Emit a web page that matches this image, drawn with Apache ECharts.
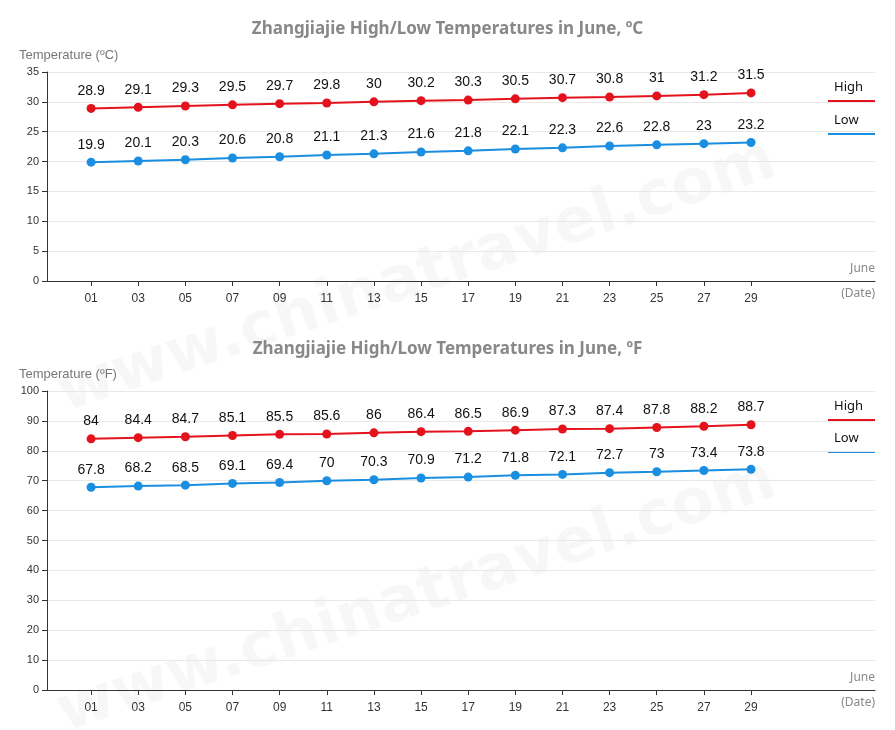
<!DOCTYPE html>
<html><head><meta charset="utf-8">
<script src="https://cdn.jsdelivr.net/npm/echarts@6/dist/echarts.min.js"></script>
<style>html,body{margin:0;padding:0;background:#fff}#c{width:895px;height:730px}</style>
</head><body><div id="c"></div>
<script>
const days = [1,3,5,7,9,11,13,15,17,19,21,23,25,27,29];
const highC = [28.9,29.1,29.3,29.5,29.7,29.8,30,30.2,30.3,30.5,30.7,30.8,31,31.2,31.5];
const lowC  = [19.9,20.1,20.3,20.6,20.8,21.1,21.3,21.6,21.8,22.1,22.3,22.6,22.8,23,23.2];
const highF = [84,84.4,84.7,85.1,85.5,85.6,86,86.4,86.5,86.9,87.3,87.4,87.8,88.2,88.7];
const lowF  = [67.8,68.2,68.5,69.1,69.4,70,70.3,70.9,71.2,71.8,72.1,72.7,73,73.4,73.8];
const RED='#e3121c', BLUE='#1a8ee1';
const pair = a => a.map((v,i)=>[days[i],v]);
const xA = gi => ({type:'value',gridIndex:gi,min:-0.87,max:34.26,
  axisLine:{onZero:false,lineStyle:{color:'#333'}},splitLine:{show:false},
  axisTick:{show:true,customValues:days,lineStyle:{color:'#333'}},
  axisLabel:{customValues:days,color:'#333',fontSize:12,margin:12,formatter:v=>String(v).padStart(2,'0')}});
const yA = (gi,max,iv,name) => ({type:'value',gridIndex:gi,min:0,max:max,interval:iv,
  name:name,nameLocation:'end',nameGap:10,nameTextStyle:{color:'#777',fontSize:13,align:'left',padding:[0,0,0,-28]},
  axisLine:{show:true,onZero:false,lineStyle:{color:'#333'}},axisTick:{show:true,lineStyle:{color:'#333'}},
  axisLabel:{color:'#333',fontSize:11},splitLine:{lineStyle:{color:'#e8e8e8'}}});
const ser = (gi,data,color) => ({type:'line',xAxisIndex:gi,yAxisIndex:gi,data:pair(data),
  symbol:'circle',symbolSize:9,itemStyle:{color},lineStyle:{color,width:2},
  label:{show:true,position:'top',color:'#111',fontSize:14,distance:6}});
const wm = (y) => ({type:'text',left:50,top:y,rotation:0.32,silent:true,z:-1,
  style:{text:'www.chinatravel.com',fill:'rgba(0,0,0,0.03)',font:'bold 62px Verdana, DejaVu Sans'}});
const leg = (y,t,c) => [{type:'text',left:834,top:y,style:{text:t,fill:'#111',font:'13px Noto Sans'}},
  {type:'rect',shape:{x:828,y:y+19,width:47,height:2},style:{fill:c}}];
const chart = echarts.init(document.getElementById('c'));
chart.setOption({
  animation:false,
  title:[{text:'Zhangjiajie High/Low Temperatures in June, ºC',left:'center',top:16,textStyle:{color:'#888',fontSize:17,fontWeight:'bold',fontFamily:'Noto Sans'}},
         {text:'Zhangjiajie High/Low Temperatures in June, ºF',left:'center',top:336,textStyle:{color:'#888',fontSize:17,fontWeight:'bold',fontFamily:'Noto Sans'}}],
  grid:[{left:47,right:20,top:72,height:209},{left:47,right:20,top:391,height:299}],
  xAxis:[xA(0),xA(1)],
  yAxis:[yA(0,35,5,'Temperature (ºC)'),yA(1,100,10,'Temperature (ºF)')],
  series:[ser(0,highC,RED),ser(0,lowC,BLUE),ser(1,highF,RED),ser(1,lowF,BLUE)],
  graphic:[wm(130),wm(450),
    ...leg(81,'High',RED),...leg(114,'Low',BLUE),...leg(400,'High',RED),...leg(432,'Low',BLUE),
    {type:'text',right:20,top:263,style:{text:'June',fill:'#888',font:'12px Noto Sans'}},
    {type:'text',right:20,top:288,style:{text:'(Date)',fill:'#888',font:'12px Noto Sans'}},
    {type:'text',right:20,top:672,style:{text:'June',fill:'#888',font:'12px Noto Sans'}},
    {type:'text',right:20,top:697,style:{text:'(Date)',fill:'#888',font:'12px Noto Sans'}}]
});
</script></body></html>
